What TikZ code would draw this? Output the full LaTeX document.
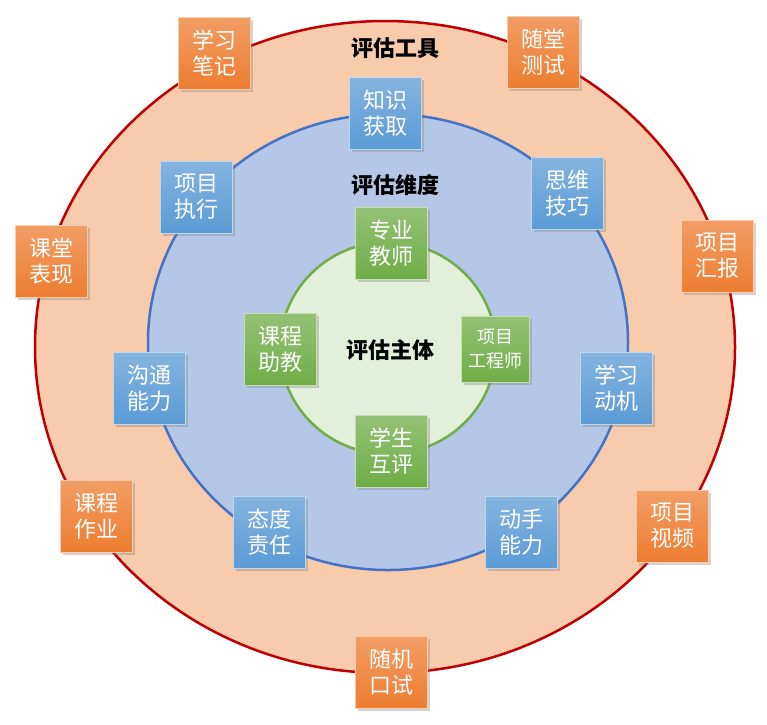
\documentclass[tikz,border=0pt]{standalone}
\usepackage{fontspec}
\setmainfont{Noto Sans CJK SC}
\usetikzlibrary{shadows}
\definecolor{toolfill}{HTML}{F8CBAD}
\definecolor{tooledge}{HTML}{C00000}
\definecolor{dimfill}{HTML}{B4C7E7}
\definecolor{dimedge}{HTML}{4472C4}
\definecolor{subfill}{HTML}{E2F0D9}
\definecolor{subedge}{HTML}{70AD47}
\definecolor{orangebox}{HTML}{ED7D31}
\definecolor{bluebox}{HTML}{5B9BD5}
\definecolor{greenbox}{HTML}{70AD47}
\tikzset{
  card/.style={minimum width=72, minimum height=72, inner sep=2, align=center,
    text=white, font=\fontsize{22}{26}\selectfont, draw=white!60!#1, line width=0.6,
    top color=#1!75!white, bottom color=#1, drop shadow={opacity=0.35}},
  toolbox/.style={card=orangebox},
  dimbox/.style={card=bluebox},
  subbox/.style={card=greenbox},
  title/.style={font=\fontsize{22}{26}\selectfont\bfseries}
}
\begin{document}
\begin{tikzpicture}[x=1pt,y=-1pt]
  \useasboundingbox (0,0) rectangle (767,724);
  % rings
  \draw[tooledge, line width=2.5, fill=toolfill] (385,347) ellipse [x radius=350, y radius=326];
  \draw[dimedge, line width=2.5, fill=dimfill] (388,342) ellipse [x radius=240, y radius=228];
  \draw[subedge, line width=2.5, fill=subfill] (388,348) ellipse [x radius=108, y radius=106];
  % titles
  \node[title] (tools) at (395,48) {评估工具};
  \node[title] (dims) at (395,185) {评估维度};
  \node[title] (subjects) at (390,350) {评估主体};
  % assessment tools
  \node[toolbox] (notes) at (214,53) {学习\\笔记};
  \node[toolbox] (quiz) at (543,52) {随堂\\测试};
  \node[toolbox] (class) at (51,261) {课堂\\表现};
  \node[toolbox] (report) at (717,256) {项目\\汇报};
  \node[toolbox] (homework) at (96,516) {课程\\作业};
  \node[toolbox] (video) at (672,526) {项目\\视频};
  \node[toolbox] (oral) at (391,672) {随机\\口试};
  % dimensions
  \node[dimbox] (knowledge) at (385,113) {知识\\获取};
  \node[dimbox] (thinking) at (567,193) {思维\\技巧};
  \node[dimbox] (execution) at (196,197) {项目\\执行};
  \node[dimbox] (communication) at (149,388) {沟通\\能力};
  \node[dimbox] (motivation) at (616,388) {学习\\动机};
  \node[dimbox] (attitude) at (269,532) {态度\\责任};
  \node[dimbox] (handson) at (521,532) {动手\\能力};
  % subjects
  \node[subbox] (teacher) at (391,243) {专业\\教师};
  \node[subbox] (assistant) at (280,349) {课程\\助教};
  \node[subbox, minimum width=68, minimum height=66, font=\fontsize{18}{24}\selectfont] (engineer) at (495,349) {项目\\工程师};
  \node[subbox] (peer) at (391,451) {学生\\互评};
\end{tikzpicture}
\end{document}
